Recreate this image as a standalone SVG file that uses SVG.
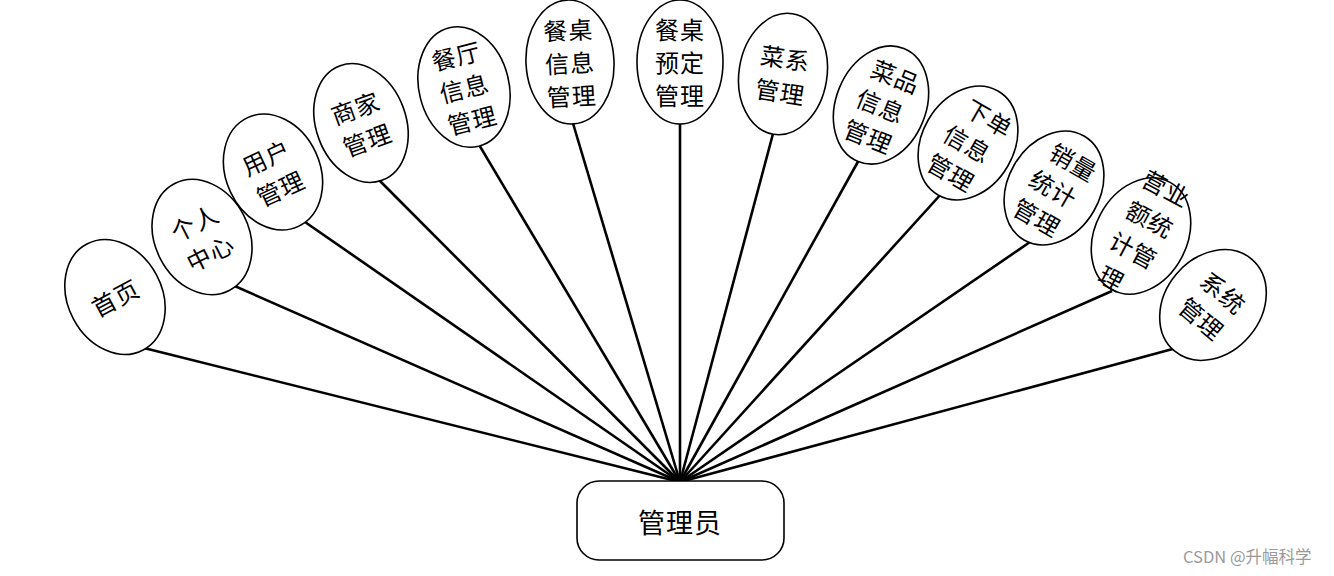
<svg xmlns="http://www.w3.org/2000/svg" width="1334" height="576" viewBox="0 0 1334 576">
<style>
.n ellipse{fill:#fff;stroke:#000;stroke-width:1.6}
.n text,.hub text{font-family:"Noto Sans CJK SC","Noto Sans CJK JP",sans-serif;font-size:24px;letter-spacing:1px;fill:#000;text-anchor:middle;dominant-baseline:central}
#edges line{stroke:#000;stroke-width:2.6}
.wm{font-family:"Noto Sans CJK SC",sans-serif;font-size:16.5px;fill:#9a9a9a}
</style>
<rect width="1334" height="576" fill="#fff"/>
<g id="edges">
<line x1="680" y1="482" x2="140" y2="347"/>
<line x1="680" y1="482" x2="230" y2="284"/>
<line x1="680" y1="482" x2="305" y2="222"/>
<line x1="680" y1="482" x2="375" y2="176"/>
<line x1="680" y1="482" x2="478" y2="143"/>
<line x1="680" y1="482" x2="572" y2="120"/>
<line x1="680" y1="482" x2="680" y2="120"/>
<line x1="680" y1="482" x2="774" y2="130"/>
<line x1="680" y1="482" x2="860" y2="158"/>
<line x1="680" y1="482" x2="942" y2="193"/>
<line x1="680" y1="482" x2="1030" y2="242"/>
<line x1="680" y1="482" x2="1112" y2="291"/>
<line x1="680" y1="482" x2="1180" y2="347"/>
</g>
<g id="n1" class="n" transform="translate(115,297) rotate(-28)"><ellipse rx="47" ry="60"/><text x="0" y="0">首页</text></g>
<g id="n2" class="n" transform="translate(202,237) rotate(-27)"><ellipse rx="47" ry="60"/><text x="0" y="-17">个人</text><text x="0" y="17">中心</text></g>
<g id="n3" class="n" transform="translate(273,172) rotate(-25)"><ellipse rx="47" ry="60"/><text x="0" y="-17">用户</text><text x="0" y="17">管理</text></g>
<g id="n4" class="n" transform="translate(361,123) rotate(-20)"><ellipse rx="45" ry="61"/><text x="0" y="-17">商家</text><text x="0" y="17">管理</text></g>
<g id="n5" class="n" transform="translate(464,87) rotate(-14)"><ellipse rx="45" ry="61"/><text x="0" y="-33">餐厅</text><text x="0" y="0">信息</text><text x="0" y="33">管理</text></g>
<g id="n6" class="n" transform="translate(570,62) rotate(-3)"><ellipse rx="44" ry="62"/><text x="0" y="-33">餐桌</text><text x="0" y="0">信息</text><text x="0" y="33">管理</text></g>
<g id="n7" class="n" transform="translate(680,62)"><ellipse rx="43" ry="62"/><text x="0" y="-34">餐桌</text><text x="0" y="-1">预定</text><text x="0" y="32">管理</text></g>
<g id="n8" class="n" transform="translate(783,74) rotate(9)"><ellipse rx="44" ry="61"/><text x="0" y="-17">菜系</text><text x="0" y="17">管理</text></g>
<g id="n9" class="n" transform="translate(881,105) rotate(22)"><ellipse rx="45" ry="61"/><text x="3" y="-33">菜品</text><text x="0" y="0">信息</text><text x="0" y="33">管理</text></g>
<g id="n10" class="n" transform="translate(968,143) rotate(30)"><ellipse rx="46" ry="60"/><text x="6" y="-33">下单</text><text x="0" y="0">信息</text><text x="0" y="33">管理</text></g>
<g id="n11" class="n" transform="translate(1054,188) rotate(30)"><ellipse rx="46" ry="60"/><text x="4" y="-33">销量</text><text x="0" y="0">统计</text><text x="0" y="33">管理</text></g>
<g id="n12" class="n" transform="translate(1141,236) rotate(28)"><ellipse rx="46" ry="61"/><text x="0" y="-55">营业</text><text x="0" y="-20">额统</text><text x="0" y="15">计管</text><text x="-6" y="50">理</text></g>
<g id="n13" class="n" transform="translate(1213,305) rotate(40)"><ellipse rx="48" ry="60"/><text x="0" y="-17">系统</text><text x="0" y="17">管理</text></g>
<g id="hub" class="hub"><rect x="577" y="481" width="207" height="79" rx="22" fill="#fff" stroke="#000" stroke-width="1.6"/><text x="680" y="521" style="font-size:27px">管理员</text></g>
<text class="wm" x="1183" y="563">CSDN @升幅科学</text>
</svg>
